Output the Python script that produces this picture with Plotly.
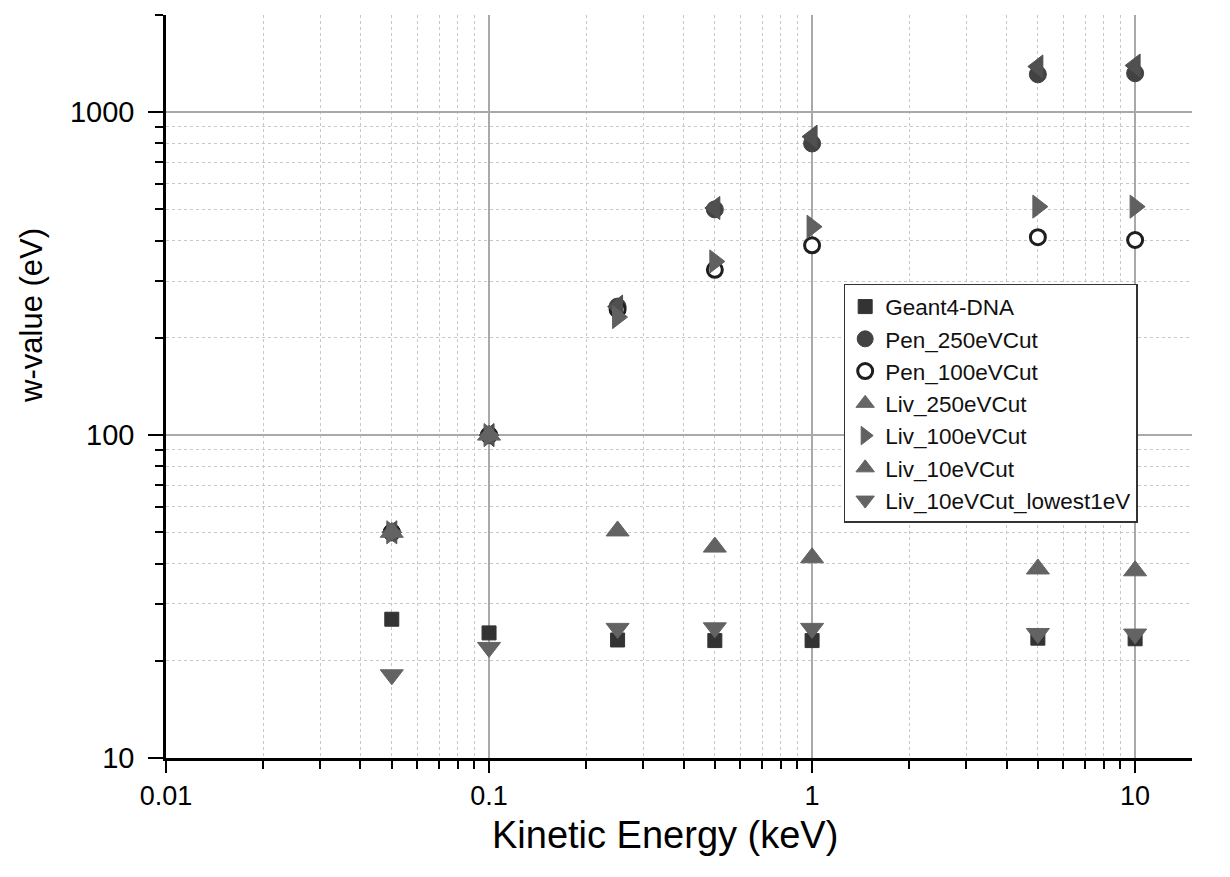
import plotly.graph_objects as go
import math

# ---- data ----
energy_kev = [0.05, 0.1, 0.25, 0.5, 1, 5, 10]
geant4_dna = [26.9, 24.4, 23.2, 23.1, 23.1, 23.5, 23.4]
pen_250ev = [50, 100, 250, 500, 800, 1310, 1320]
pen_100ev = [50, 100, 245, 325, 387, 410, 402]
liv_250ev = [50, 100, 250, 505, 840, 1385, 1395]
liv_100ev = [50, 100, 232, 345, 442, 510, 510]
liv_10ev = [50, 100, 50.5, 45, 41.7, 38.5, 38]
liv_10ev_low1 = [18.1, 22.0, 25.2, 25.3, 25.2, 24.3, 24.2]

x_tick_vals = [0.01, 0.1, 1, 10]
x_tick_text = ["0.01", "0.1", "1", "10"]
y_tick_vals = [10, 100, 1000]
y_tick_text = ["10", "100", "1000"]
minor_mult = [2, 3, 4, 5, 6, 7, 8, 9]

x_minor = [m * d for d in [0.01, 0.1, 1, 10] for m in minor_mult]
y_minor = [m * d for d in [10, 100, 1000] for m in minor_mult]

FONT = "Liberation Sans, Arial, sans-serif"

fig = go.Figure()

def add(name, y, symbol, size, color, fill=None, lw=1, showlegend=True):
    fig.add_trace(go.Scatter(
        x=energy_kev, y=y, mode="markers", name=name, showlegend=showlegend,
        marker=dict(symbol=symbol, size=size,
                    color=fill if fill is not None else color,
                    line=dict(color=color, width=lw)),
    ))

add("Geant4-DNA", geant4_dna, "square", 14, "#333333")
add("Pen_250eVCut", pen_250ev, "circle", 17, "#424242")
add("Pen_100eVCut", pen_100ev, "circle", 15, "#1e1e1e", fill="white", lw=3)
# Liv_250eVCut: drawn as left-pointing triangles in the plot, up triangle in legend
add("Liv_250eVCut", liv_250ev, "triangle-left", 20, "#505050", showlegend=False)
fig.add_trace(go.Scatter(x=[None], y=[None], mode="markers", name="Liv_250eVCut",
                         marker=dict(symbol="triangle-up", size=20, color="#666666",
                                     line=dict(color="#666666", width=1))))
add("Liv_100eVCut", liv_100ev, "triangle-right", 20, "#606060")
add("Liv_10eVCut", liv_10ev, "triangle-up", 20, "#636363")
add("Liv_10eVCut_lowest1eV", liv_10ev_low1, "triangle-down", 20, "#636363")

axis_common = dict(
    type="log", showline=True, linecolor="black", mirror=False, automargin=False,
    ticks="outside", tickwidth=2, tickcolor="black",
    showgrid=True, gridcolor="#a9a9a9", gridwidth=1.5,
)

fig.update_xaxes(
    **axis_common,
    linewidth=3, ticklen=12,
    tickfont=dict(family=FONT, size=27, color="black"),
    range=[-2, math.log10(15)],
    tickvals=x_tick_vals, ticktext=x_tick_text,
    minor=dict(tickvals=x_minor, ticks="outside", ticklen=8, tickwidth=1.5,
               tickcolor="black", showgrid=True, gridcolor="#c8c8c8",
               griddash="dot", gridwidth=1),
)
fig.update_yaxes(
    **axis_common,
    linewidth=2.5, ticklen=15, ticklabelstandoff=8,
    tickfont=dict(family=FONT, size=29, color="black"),
    range=[1, math.log10(2000)],
    tickvals=y_tick_vals, ticktext=y_tick_text,
    minor=dict(tickvals=y_minor, ticks="outside", ticklen=8, tickwidth=1.5,
               tickcolor="black", showgrid=True, gridcolor="#c8c8c8",
               griddash="dot", gridwidth=1),
)

# axis titles as annotations for exact placement
fig.add_annotation(text="Kinetic Energy (keV)", xref="paper", yref="paper",
                   x=0.4864, y=-0.1036, xanchor="center", yanchor="middle",
                   showarrow=False, font=dict(family=FONT, size=38, color="black"))
fig.add_annotation(text="w-value (eV)", xref="paper", yref="paper",
                   x=-0.1306, y=0.595, xanchor="center", yanchor="middle",
                   textangle=-90, showarrow=False,
                   font=dict(family=FONT, size=31, color="black"))

fig.update_layout(
    width=1230, height=877,
    margin=dict(l=158, r=46, t=7, b=127),
    paper_bgcolor="white", plot_bgcolor="white",
    font=dict(family=FONT, color="black"),
    legend=dict(
        x=0.6605, y=0.638, xanchor="left", yanchor="top",
        bgcolor="white", bordercolor="#333333", borderwidth=1.5,
        font=dict(family=FONT, size=22.5, color="#111111"),
        tracegroupgap=0,
    ),
)

fig.write_html("out.html")
